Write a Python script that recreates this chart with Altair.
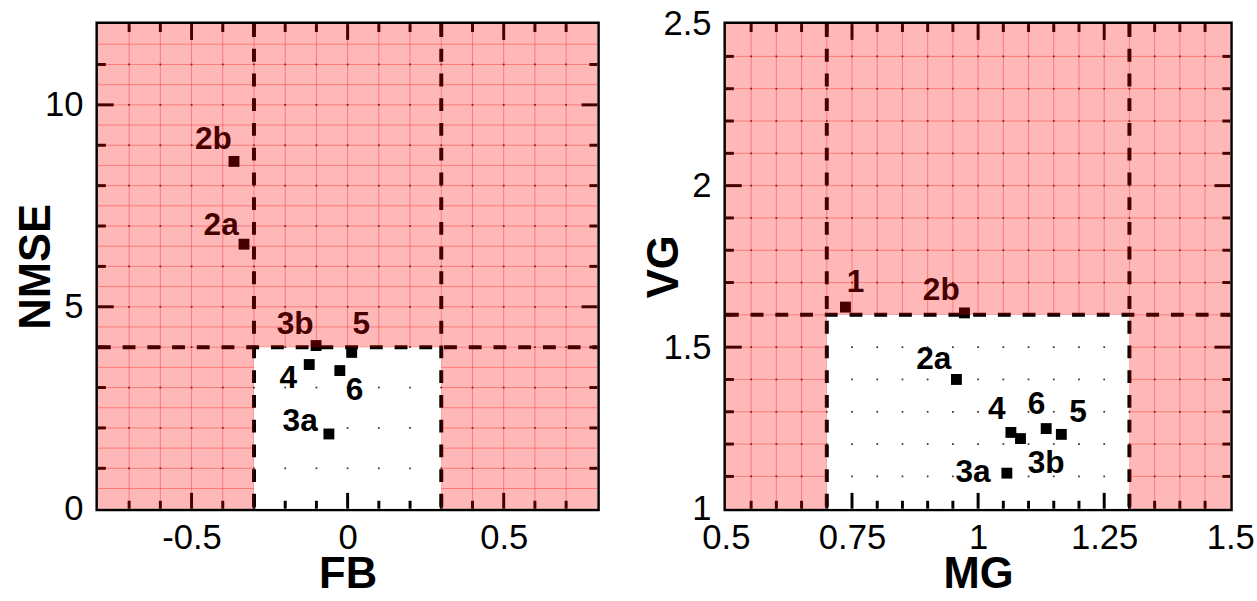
import altair as alt
import pandas as pd

# ---------------- data: left panel (FB vs NMSE) ----------------
case_left = ["2b", "2a", "3b", "5", "4", "6", "3a"]
fb = [-0.364, -0.332, -0.101, 0.013, -0.123, -0.025, -0.060]
nmse = [8.60, 6.55, 4.04, 3.87, 3.57, 3.42, 1.85]
label_fb = [-0.430, -0.405, -0.168, 0.044, -0.190, 0.022, -0.152]
label_nmse = [9.14, 7.02, 4.58, 4.56, 3.23, 2.93, 2.17]

# ---------------- data: right panel (MG vs VG) ----------------
case_right = ["1", "2b", "2a", "4", "3b", "6", "5", "3a"]
mg = [0.737, 0.973, 0.957, 1.065, 1.084, 1.135, 1.165, 1.057]
vg = [1.624, 1.606, 1.400, 1.236, 1.217, 1.248, 1.230, 1.110]
label_mg = [0.757, 0.927, 0.912, 1.037, 1.135, 1.116, 1.198, 0.990]
label_vg = [1.701, 1.676, 1.462, 1.309, 1.141, 1.324, 1.300, 1.113]

# axis domains, acceptance thresholds, tick values
fb_domain = [-0.8, 0.8]
nmse_domain = [0, 12]
mg_domain = [0.5, 1.5]
vg_domain = [1.0, 2.5]
fb_ok = [-0.3, 0.3]
nmse_ok = 4
mg_ok = [0.7, 1.3]
vg_ok = 1.6
fb_major = [-0.5, 0, 0.5]
nmse_major = [0, 5, 10]
mg_major = [0.5, 0.75, 1, 1.25, 1.5]
vg_major = [1, 1.5, 2, 2.5]
fb_minor_step, nmse_minor_step = 0.1, 1
mg_minor_step, vg_minor_step = 0.05, 0.1
fb_hatch_step, nmse_hatch_step = 0.1, 0.5
mg_hatch_step, vg_hatch_step = 0.05, 0.1

FONT = "Liberation Sans"
RED_OVER = 0.28


def steps(dom, step):
    n = int(round((dom[1] - dom[0]) / step))
    return [round(dom[0] + i * step, 6) for i in range(n + 1)]


def panel(W, H, xdom, ydom, xok, yok, xmaj, ymaj, xstep, ystep, xhs, yhs,
          xs, ys, names, lx, ly, xtitle, ytitle):
    xsc = alt.Scale(domain=xdom, nice=False, zero=False)
    ysc = alt.Scale(domain=ydom, nice=False, zero=False)

    xaxis = alt.Axis(values=xmaj, title=xtitle, ticks=False, domain=False, grid=False,
                     labelExpr="'' + datum.value", labelFont=FONT, labelFontSize=35,
                     labelColor="black", labelPadding=12, labelFlush=False,
                     labelOverlap=False, labelBound=False,
                     titleFont=FONT, titleFontSize=44, titleFontWeight="bold",
                     titleColor="black", titleX=W / 2, titleY=67, titleBaseline="middle")
    yaxis = alt.Axis(values=ymaj, title=ytitle, ticks=False, domain=False, grid=False,
                     labelExpr="'' + datum.value", labelFont=FONT, labelFontSize=35,
                     labelColor="black", labelPadding=15, labelFlush=False,
                     labelOverlap=False, labelBound=False,
                     titleFont=FONT, titleFontSize=44, titleFontWeight="bold",
                     titleColor="black", titleX=-62, titleY=H / 2, titleBaseline="middle",
                     titleAngle=-90)

    def X(f):
        return alt.X(f, type="quantitative", scale=xsc, axis=xaxis)

    def Y(f):
        return alt.Y(f, type="quantitative", scale=ysc, axis=yaxis)

    base_df = pd.DataFrame({"x": [xdom[0]], "x2": [xdom[1]], "y": [ydom[0]], "y2": [ydom[1]]})
    base = alt.Chart(base_df).mark_rect(fill="white").encode(
        x=X("x"), x2="x2:Q", y=Y("y"), y2="y2:Q")

    # red hatch lines (visible only in the unacceptable region)
    hv = pd.DataFrame({"v": steps(xdom, xhs)[1:-1]})
    hh = pd.DataFrame({"v": steps(ydom, yhs)[1:-1]})
    hatch_v = alt.Chart(hv).mark_rule(color="#ff0000", strokeWidth=1, opacity=0.35).encode(
        x=X("v"), y=alt.value(0), y2=alt.value(H))
    hatch_h = alt.Chart(hh).mark_rule(color="#ff0000", strokeWidth=1, opacity=0.35).encode(
        y=Y("v"), x=alt.value(0), x2=alt.value(W))

    ok_df = pd.DataFrame({"x": [xok[0]], "x2": [xok[1]], "y": [ydom[0]], "y2": [yok]})
    white = alt.Chart(ok_df).mark_rect(fill="white").encode(
        x=X("x"), x2="x2:Q", y=Y("y"), y2="y2:Q")

    xminor = steps(xdom, xstep)
    yminor = steps(ydom, ystep)
    dots_df = pd.DataFrame([{"x": a, "y": b} for a in xminor[1:-1] for b in yminor[1:-1]])
    dots = alt.Chart(dots_df).mark_square(size=3, color="#333333", opacity=1).encode(
        x=X("x"), y=Y("y"))

    dash = dict(color="black", strokeWidth=4, strokeDash=[13, 12])
    dv = alt.Chart(pd.DataFrame({"v": xok})).mark_rule(**dash).encode(
        x=X("v"), y=alt.value(0), y2=alt.value(H))
    dh = alt.Chart(pd.DataFrame({"v": [yok]})).mark_rule(**dash).encode(
        y=Y("v"), x=alt.value(0), x2=alt.value(W))

    def is_major(v, maj):
        return any(abs(v - m) < 1e-6 for m in maj)

    xmin_t = pd.DataFrame({"v": [v for v in xminor[1:-1] if not is_major(v, xmaj)]})
    xmaj_t = pd.DataFrame({"v": [v for v in xmaj if xdom[0] < v < xdom[1]]})
    ymin_t = pd.DataFrame({"v": [v for v in yminor[1:-1] if not is_major(v, ymaj)]})
    ymaj_t = pd.DataFrame({"v": [v for v in ymaj if ydom[0] < v < ydom[1]]})
    tk = dict(color="black", strokeWidth=3)
    ticks = []
    for df, L in ((xmin_t, 8), (xmaj_t, 16)):
        ticks.append(alt.Chart(df).mark_rule(**tk).encode(x=X("v"), y=alt.value(H), y2=alt.value(H - L)))
        ticks.append(alt.Chart(df).mark_rule(**tk).encode(x=X("v"), y=alt.value(0), y2=alt.value(L)))
    for df, L in ((ymin_t, 8), (ymaj_t, 16)):
        ticks.append(alt.Chart(df).mark_rule(**tk).encode(y=Y("v"), x=alt.value(0), x2=alt.value(L)))
        ticks.append(alt.Chart(df).mark_rule(**tk).encode(y=Y("v"), x=alt.value(W), x2=alt.value(W - L)))

    pts_df = pd.DataFrame({"x": xs, "y": ys, "name": names, "lx": lx, "ly": ly})
    pts = alt.Chart(pts_df).mark_square(size=121, color="black", opacity=1).encode(
        x=X("x"), y=Y("y"))
    txt = alt.Chart(pts_df).mark_text(font=FONT, fontWeight="bold", fontSize=32, color="black",
                                       align="center", baseline="middle").encode(
        x=X("lx"), y=Y("ly"), text="name:N")

    ov_df = pd.DataFrame({
        "x": [xdom[0], xok[1], xok[0]],
        "x2": [xok[0], xdom[1], xok[1]],
        "y": [ydom[0], ydom[0], yok],
        "y2": [ydom[1], ydom[1], ydom[1]],
    })
    overlay = alt.Chart(ov_df).mark_rect(fill="#ff0000", opacity=RED_OVER).encode(
        x=X("x"), x2="x2:Q", y=Y("y"), y2="y2:Q")

    return alt.layer(base, hatch_v, hatch_h, white, dots, dv, dh, *ticks, pts, txt, overlay).properties(
        width=W, height=H)


left = panel(505, 490, fb_domain, nmse_domain, fb_ok, nmse_ok, fb_major, nmse_major,
             fb_minor_step, nmse_minor_step, fb_hatch_step, nmse_hatch_step,
             fb, nmse, case_left, label_fb, label_nmse, "FB", "NMSE")
right = panel(510, 490, mg_domain, vg_domain, mg_ok, vg_ok, mg_major, vg_major,
              mg_minor_step, vg_minor_step, mg_hatch_step, vg_hatch_step,
              mg, vg, case_right, label_mg, label_vg, "MG", "VG")

chart = alt.hconcat(left, right, spacing=38).properties(
    padding={"left": 12, "top": 1, "right": 0, "bottom": 0},
    background="white",
).configure_view(stroke="black", strokeWidth=5)

chart.save("out.html", embed_options={"renderer": "svg", "actions": False})
